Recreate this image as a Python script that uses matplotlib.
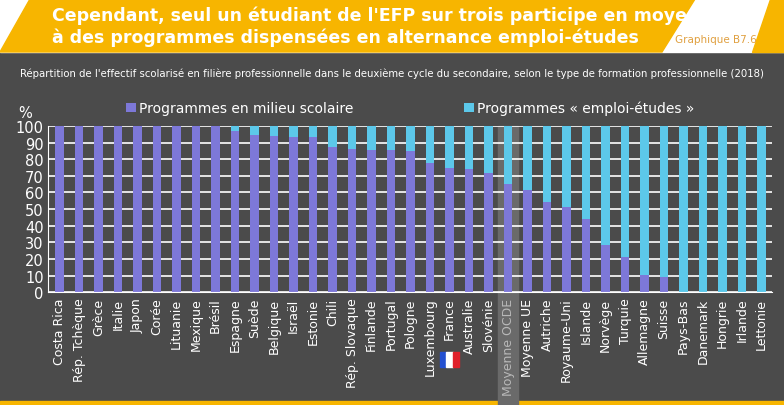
import matplotlib
matplotlib.use("Agg")
import matplotlib.pyplot as plt
from matplotlib.patches import Polygon, Rectangle
import numpy as np

BG = "#4b4b4b"
YEL = "#f7b500"
PURPLE = "#7d78d8"
CYAN = "#5cc8ea"

countries = ["Costa Rica", "Rép. Tchèque", "Grèce", "Italie", "Japon", "Corée", "Lituanie",
             "Mexique", "Brésil", "Espagne", "Suède", "Belgique", "Israël", "Estonie", "Chili",
             "Rép. Slovaque", "Finlande", "Portugal", "Pologne", "Luxembourg", "France",
             "Australie", "Slovénie", "Moyenne OCDE", "Moyenne UE", "Autriche", "Royaume-Uni",
             "Islande", "Norvège", "Turquie", "Allemagne", "Suisse", "Pays-Bas", "Danemark",
             "Hongrie", "Irlande", "Lettonie"]
school = [100, 100, 100, 100, 100, 100, 100, 100, 100, 97, 94.4, 94, 93.3, 93.3, 87.3,
          86.3, 85.7, 85.7, 85, 77.7, 75, 74, 71.6, 65, 61.6, 54, 51.3, 43.9, 28.4, 21.3,
          10.5, 9, 0, 0, 0, 0, 0]
work = [100 - v for v in school]

fig = plt.figure(figsize=(7.84, 4.06), dpi=100)
fig.patch.set_facecolor(BG)

# header band
bg = fig.add_axes([0, 0, 1, 1], zorder=-5)
bg.set_xlim(0, 784); bg.set_ylim(406, 0); bg.axis("off")
bg.add_patch(Rectangle((0, 0), 784, 53, color="white"))
bg.add_patch(Polygon([(30, 0), (695, 0), (662, 53), (0, 53)], color=YEL))
bg.add_patch(Polygon([(770, 0), (784, 0), (784, 53), (752, 53)], color=YEL))
bg.add_patch(Rectangle((0, 402), 784, 4, color=YEL))
bg.text(52, 16, "Cependant, seul un étudiant de l'EFP sur trois participe en moyenne",
        color="white", fontsize=12.5, fontweight="bold", va="center")
bg.text(52, 38, "à des programmes dispensées en alternance emploi-études",
        color="white", fontsize=12.5, fontweight="bold", va="center")
bg.text(757, 40, "Graphique B7.6", color="#e0a040", fontsize=7.5, ha="right", va="center")
bg.text(392, 74, "Répartition de l'effectif scolarisé en filière professionnelle dans le deuxième "
        "cycle du secondaire, selon le type de formation professionnelle (2018)",
        color="white", fontsize=7.3, ha="center", va="center")

ax = fig.add_axes([0.061, 0.278, 0.924, 0.409])
ax.set_facecolor(BG)
x = np.arange(len(countries))
oi = countries.index("Moyenne OCDE")
ax.axvspan(oi - 0.5, oi + 0.5, ymin=-0.68, ymax=1, color="#6a6a6a", zorder=0, clip_on=False)
ax.bar(x, school, width=0.42, color=PURPLE, zorder=2, label="Programmes en milieu scolaire")
ax.bar(x, work, bottom=school, width=0.42, color=CYAN, zorder=2,
       label="Programmes « emploi-études »")
ax.set_ylim(0, 100)
ax.set_xlim(-0.6, len(countries) - 0.45)
ax.set_yticks(range(0, 101, 10))
ax.grid(axis="y", color="white", lw=1.2, zorder=1)
ax.set_xticks(x)
ax.set_xticklabels(countries, rotation=90, color="white", fontsize=9)
ax.tick_params(axis="y", colors="white", labelsize=10.5, length=0, pad=3)
ax.tick_params(axis="x", colors="white", length=3, direction="in", pad=4)
for t in ax.get_xticklabels():
    if t.get_text() == "Moyenne OCDE":
        t.set_color("#b8b8b8")
for s in ["top", "right"]:
    ax.spines[s].set_visible(False)
ax.spines["left"].set_color("white")
ax.spines["bottom"].set_color("white")
ax.text(-0.022, 1.035, "%", transform=ax.transAxes, color="white", fontsize=10.5,
        ha="right", va="bottom")
ax.legend(loc="lower center", bbox_to_anchor=(0.5, 0.99), ncol=2, frameon=False,
          fontsize=10, labelcolor="white", handlelength=0.7, handleheight=0.7,
          handletextpad=0.2, columnspacing=8)

# French flag under France label
fi = countries.index("France")
for k, c in enumerate(["#2450d0", "white", "#e0202a"]):
    ax.add_patch(Rectangle((fi - 0.5 + k * 0.33, -45), 0.33, 9, color=c,
                           clip_on=False, zorder=3))

fig.savefig("out.png", facecolor=BG)
